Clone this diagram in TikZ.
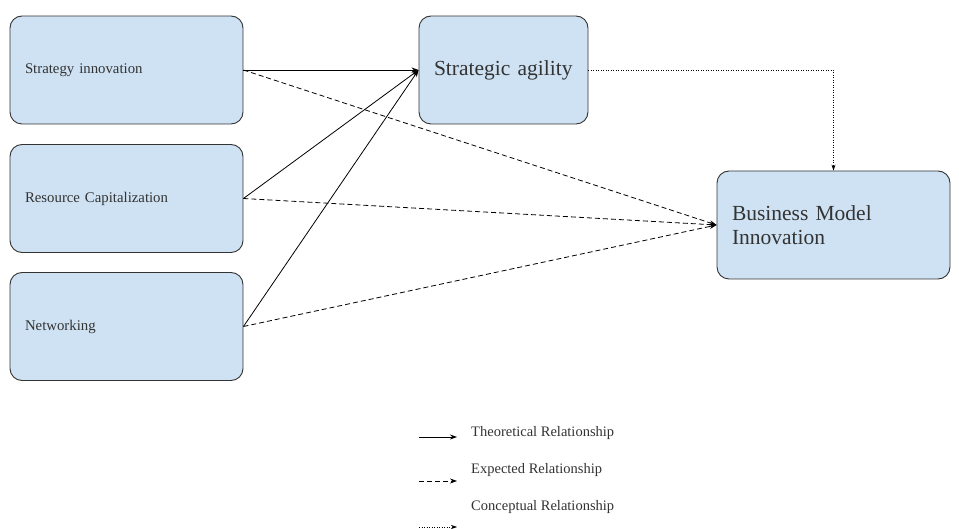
\documentclass[tikz,border=0pt]{standalone}
\usepackage{fontspec}
\setmainfont{Liberation Serif}
\usetikzlibrary{arrows.meta}
\definecolor{boxblue}{HTML}{CFE2F3}
\definecolor{boxline}{HTML}{333333}
\tikzset{
	factor/.style={draw=boxline, fill=boxblue, rounded corners=12pt, line width=0.9pt,
		minimum width=233pt, minimum height=108pt, text width=203pt, align=left,
		inner xsep=15pt, font=\fontsize{14.8}{17}\selectfont, text=boxline},
	bigfactor/.style={factor, font=\fontsize{21.5}{24}\selectfont},
	theo/.style={-{Stealth[length=7pt,width=5pt]}, line width=0.8pt},
	expe/.style={-{Stealth[length=7pt,width=5pt]}, line width=0.8pt, dash pattern=on 5pt off 3pt},
	conc/.style={-{Stealth[length=6pt,width=4pt]}, line width=0.6pt, dash pattern=on 1pt off 1.5pt},
	legtext/.style={anchor=west, font=\fontsize{14.5}{16}\selectfont, text=boxline, inner sep=0pt}
}
\begin{document}
\begin{tikzpicture}[x=1pt,y=-1pt, line join=round]
	\useasboundingbox (0,0) rectangle (959,529);
	% factors
	\node[factor] (si) at (126.5,70) {Strategy innovation};
	\node[factor] (rc) at (126.5,198.5) {Resource Capitalization};
	\node[factor] (nw) at (126.5,326.5) {Networking};
	\node[bigfactor, minimum width=169pt, text width=139pt] (sa) at (503.5,70) {Strategic agility};
	\node[bigfactor] (bmi) at (833.5,225) {Business Model\\Innovation};
	% theoretical
	\foreach \f in {si,rc,nw}
	{\draw[theo] (\f.east) -- (sa.west);}
	% expected
	\foreach \f in {si,rc,nw}
	{\draw[expe] (\f.east) -- (bmi.west);}
	% conceptual
	\draw[conc] (sa.east) -| (bmi.north);
	% legend
	\coordinate (l1a) at (419,437); \coordinate (l1b) at (457,437);
	\coordinate (l2a) at (419,481); \coordinate (l2b) at (457,481);
	\coordinate (l3a) at (419,527); \coordinate (l3b) at (457,527);
	\draw[theo] (l1a) -- (l1b);
	\draw[expe] (l2a) -- (l2b);
	\draw[conc] (l3a) -- (l3b);
	\node[legtext] (t1) at (471,433) {Theoretical Relationship};
	\node[legtext] (t2) at (471,470) {Expected Relationship};
	\node[legtext] (t3) at (471,507) {Conceptual Relationship};
\end{tikzpicture}
\end{document}
